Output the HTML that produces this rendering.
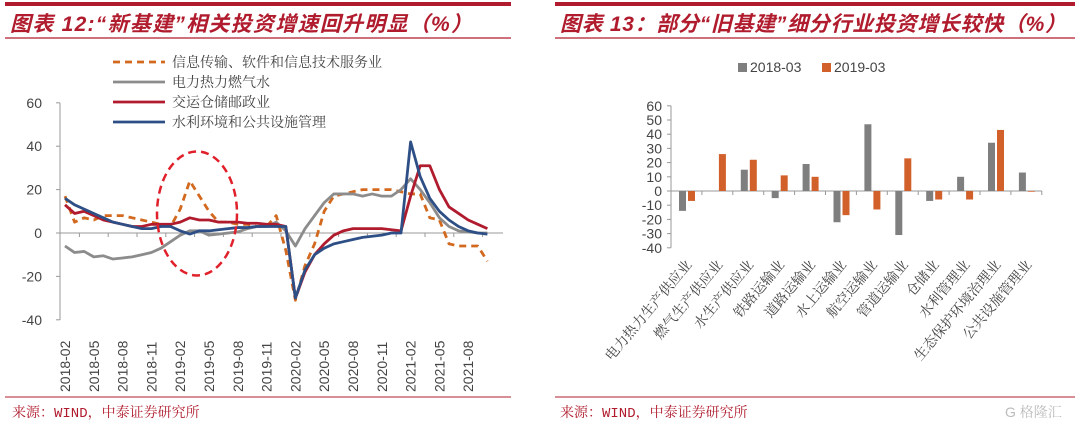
<!DOCTYPE html>
<html><head><meta charset="utf-8"><style>
body{margin:0;width:1080px;height:427px;background:#fff;overflow:hidden;font-family:"Liberation Sans","Noto Sans CJK SC",sans-serif;}
svg text{font-family:"Liberation Sans","Noto Serif CJK SC",serif;}
.t{font-family:"Liberation Sans","Noto Sans CJK SC",sans-serif;font-weight:bold;font-style:italic;fill:#b01c2e;font-size:21px;}
.src{font-family:"Liberation Mono","Noto Serif CJK SC",monospace;fill:#b01c2e;font-size:14px;}
</style></head><body>
<svg id="s" width="1080" height="427" xmlns="http://www.w3.org/2000/svg">
<rect x="5" y="2" width="506" height="4" fill="#b01c2e"/>
<text x="10" y="31" class="t" textLength="462" lengthAdjust="spacing">图表 12:“新基建”相关投资增速回升明显（%）</text>
<line x1="5" y1="38" x2="511" y2="38" stroke="#b01c2e" stroke-width="1.2"/>
<rect x="555" y="2" width="520" height="4" fill="#b01c2e"/>
<text x="560" y="31" class="t" textLength="506" lengthAdjust="spacing">图表 13：部分“旧基建”细分行业投资增长较快（%）</text>
<line x1="555" y1="38" x2="1075" y2="38" stroke="#b01c2e" stroke-width="1.2"/>
<line x1="5" y1="397" x2="511" y2="397" stroke="#b01c2e" stroke-width="1"/>
<line x1="555" y1="397" x2="1075" y2="397" stroke="#b01c2e" stroke-width="1"/>
<text x="12" y="417" class="src">来源：WIND，中泰证券研究所</text>
<text x="560" y="417" class="src">来源：WIND，中泰证券研究所</text>
<text x="1005" y="417" font-size="14" fill="#bbb">G 格隆汇</text>
<g id="left"></g><g id="right"></g>
</svg>
<script>
const xLabels=["2018-02","2018-05","2018-08","2018-11","2019-02","2019-05","2019-08","2019-11","2020-02","2020-05","2020-08","2020-11","2021-02","2021-05","2021-08"];
const yTicks=[60,40,20,0,-20,-40];
const seriesNames=["信息传输、软件和信息技术服务业","电力热力燃气水","交运仓储邮政业","水利环境和公共设施管理"];
const infoTech=[17,5,7,6,8,8,8,7,6,5,4,3,11,24,17,10,5,5,4,4,3,3,8,-8,-31,-15,-5,10,17,18,19,20,20,20,20,19,18,18,7,6,-5,-6,-6,-6,-13];
const power=[-6,-9,-8.5,-11,-10.5,-12,-11.5,-11,-10,-9,-7,-4,-1,1,1,-1,-0.5,0,0.5,2,3,3,5,1,-6,2,8,14,18,18,18,17,18,17,17,20,25,20,14,7,3,1,0.5,0,0];
const transport=[13,9,10,8,6,5,4,3,3,4,4,4,5,7,6,6,5,5,5,4.5,4.5,4,4,3,-30,-18,-10,-5,-1,1,2,2,2,2,1.5,1,17,31,31,20,12,9,6,4,2];
const water=[16,13,11,9,7,5,4,3,2,2,3,3,1,-0.5,1,1,1.5,2,2.5,2.5,3,3,3,3,-30,-17,-10,-7,-5,-4,-3,-2,-1.5,-1,0,0,42,26,16,10,6,3,1,0,-0.5];
const cats=["电力热力生产供应业","燃气生产供应业","水生产供应业","铁路运输业","道路运输业","水上运输业","航空运输业","管道运输业","仓储业","水利管理业","生态保护环境治理业","公共设施管理业"];
const v2018=[-14,0,15,-5,19,-22,47,-31,-7,10,34,13];
const v2019=[-7,26,22,11,10,-17,-13,23,-6,-6,43,-0.5];
const rTicks=[60,50,40,30,20,10,0,-10,-20,-30,-40];

const NS="http://www.w3.org/2000/svg";
function mk(p,tag,a){const e=document.createElementNS(NS,tag);for(const k in a)e.setAttribute(k,a[k]);p.appendChild(e);return e;}
// LEFT
const L=document.getElementById('left');
const ly=v=>233-v*2.17, lx=i=>65+i*9.6;
mk(L,'line',{x1:60,y1:103,x2:60,y2:320,stroke:'#999'});
mk(L,'line',{x1:60,y1:ly(0),x2:503,y2:ly(0),stroke:'#999'});
yTicks.forEach(v=>{mk(L,'line',{x1:56,y1:ly(v),x2:60,y2:ly(v),stroke:'#999'});
 const t=mk(L,'text',{x:42,y:ly(v)+5,'text-anchor':'end','font-size':14,fill:'#444'});t.textContent=v;
 
 });
for(let k=0;k<15;k++){mk(L,'line',{x1:lx(3*k)+14.4,y1:ly(0),x2:lx(3*k)+14.4,y2:ly(0)+4,stroke:'#999'});}
xLabels.forEach((s,k)=>{const x=lx(3*k);const t=mk(L,'text',{x:0,y:0,transform:`translate(${x+5},392) rotate(-90)`,'font-size':14,fill:'#444'});t.textContent=s;
 
 });
const sty=[{c:'#d2691e',d:'7,5',w:2.8,data:infoTech},{c:'#8c8c8c',d:'',w:2.8,data:power},{c:'#b01c2e',d:'',w:2.8,data:transport},{c:'#2d4f86',d:'',w:2.8,data:water}];
sty.forEach((s,j)=>{const p=mk(L,'polyline',{points:s.data.map((v,i)=>lx(i)+','+ly(v)).join(' '),fill:'none',stroke:s.c,'stroke-width':s.w,'stroke-dasharray':s.d,'stroke-linejoin':'round'});
 
 
 const yy=62+j*20;
 mk(L,'line',{x1:113,y1:yy,x2:165,y2:yy,stroke:s.c,'stroke-width':2.8,'stroke-dasharray':s.d});
 const t=mk(L,'text',{x:172,y:yy+5,'font-size':14,fill:'#444'});t.textContent=seriesNames[j];
 
 });
const el=mk(L,'ellipse',{cx:197,cy:ly(9),rx:40,ry:62,fill:'none',stroke:'#e0202a','stroke-width':2.5,'stroke-dasharray':'8,5'});


// RIGHT
const R=document.getElementById('right');
const ry=v=>191-v*1.42, bw=30.9, rx=i=>671+i*bw;
mk(R,'line',{x1:671,y1:ry(60),x2:671,y2:ry(-40),stroke:'#999'});
mk(R,'line',{x1:671,y1:ry(0),x2:1042,y2:ry(0),stroke:'#999'});
rTicks.forEach(v=>{mk(R,'line',{x1:667,y1:ry(v),x2:671,y2:ry(v),stroke:'#999'});
 const t=mk(R,'text',{x:662,y:ry(v)+5,'text-anchor':'end','font-size':14,fill:'#444'});t.textContent=v;
 
 });
cats.forEach((c,i)=>{mk(R,'line',{x1:rx(i+1),y1:ry(0),x2:rx(i+1),y2:ry(0)+4,stroke:'#999'});
 [[v2018[i],'#7f7f7f',8],[v2019[i],'#d2602a',17]].forEach(([v,col,off])=>{
  const b=mk(R,'rect',{x:rx(i)+off,y:Math.min(ry(v),ry(0)),width:7,height:Math.abs(ry(v)-ry(0)),fill:col});
  
  });
 const t=mk(R,'text',{x:0,y:0,transform:`translate(${rx(i)+bw/2+6},265) rotate(-50)`,'text-anchor':'end','font-size':14,fill:'#444'});t.textContent=c;
 
 });
mk(R,'rect',{x:738,y:63,width:9,height:9,fill:'#7f7f7f'});
let t1=mk(R,'text',{x:750,y:72,'font-size':14,fill:'#444'});t1.textContent='2018-03';


mk(R,'rect',{x:822,y:63,width:9,height:9,fill:'#d2602a'});
let t2=mk(R,'text',{x:834,y:72,'font-size':14,fill:'#444'});t2.textContent='2019-03';


</script>
</body></html>
